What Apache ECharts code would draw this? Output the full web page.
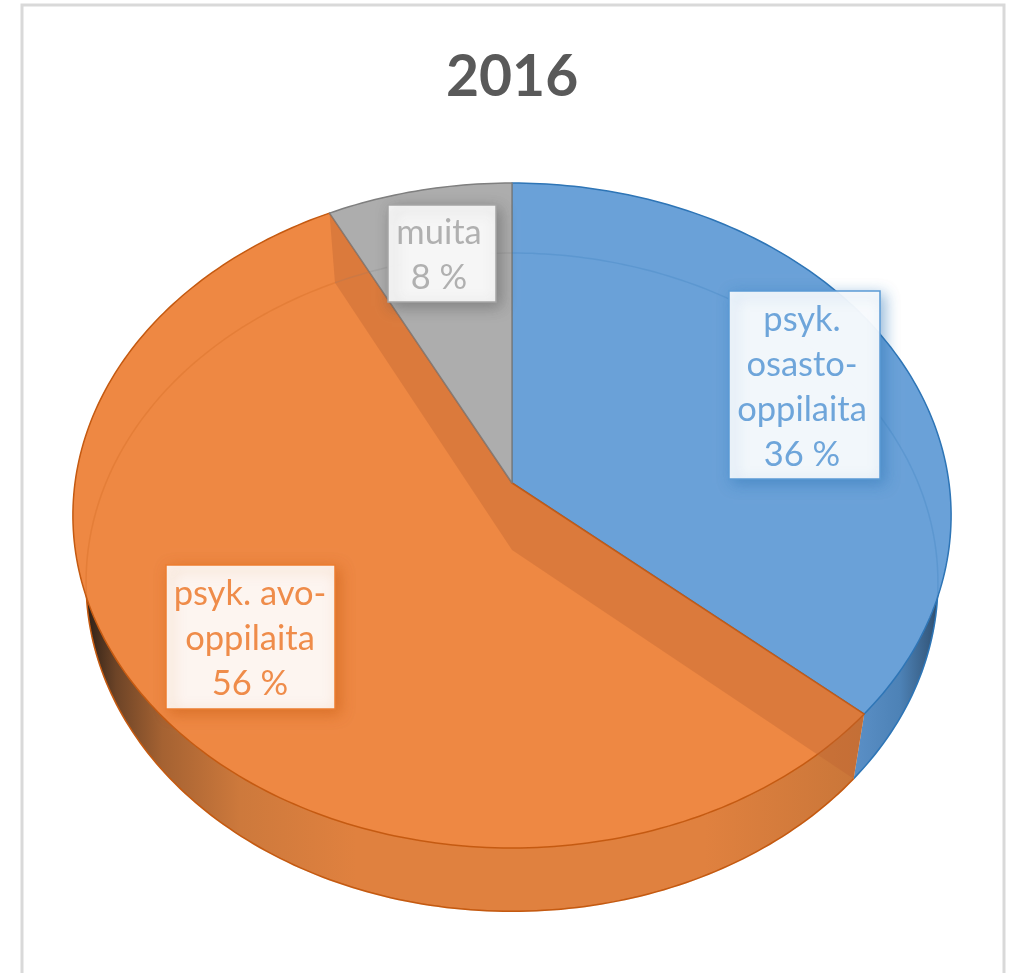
<!DOCTYPE html>
<html>
<head>
<meta charset="utf-8">
<title>2016</title>
<style>
  html, body { margin: 0; padding: 0; background: #fff; }
  #main { width: 1015px; height: 973px; }
</style>
<script src="https://cdn.jsdelivr.net/npm/echarts@6/dist/echarts.min.js"></script>
</head>
<body>
<div id="main"></div>
<script>
const chartTitle = '2016'
const categories = ['psyk.\nosasto-\noppilaita', 'psyk. avo-\noppilaita', 'muita']
const shares = [36.4, 56.1, 7.5]

// slice colours, in the same order as the categories
const topColors = ['#6aa1d8', '#ee8843', '#adadad']
const rimColors = ['#2e75b6', '#c55a11', '#7f7f7f']
const textColors = ['#6ea5da', '#ef8c4a', '#b0b0b0']
const boxColors = ['#5b9bd5', '#ed7d31', '#a5a5a5']
const shadowColors = ['rgba(46,117,182,0.55)', 'rgba(197,90,17,0.55)', 'rgba(80,80,80,0.5)']
const labelBoxes = [
  { x: 729, y: 291, w: 151, h: 188, textX: 802 },
  { x: 166, y: 565, w: 169, h: 144, textX: 250 },
  { x: 388, y: 205, w: 108, h: 97, textX: 439 }
]

// perspective of the tilted disc
const cx = 512
const apexY = 483
const radiusX = 437
const radiusY = 329.3
const tilt = -0.0977
const depth = 67
const bottomScale = 0.97

const total = shares.reduce((a, b) => a + b, 0)
const startAngles = []
let sum = 0
shares.forEach(v => {
  startAngles.push(sum / total * Math.PI * 2)
  sum += v
})
const endAngle = i => startAngles[i] + shares[i] / total * Math.PI * 2

function project(angle, lower) {
  const u = Math.sin(angle)
  const v = -Math.cos(angle)
  const w = 1 + tilt * v
  const sx = lower ? bottomScale : 1
  return [cx + radiusX * sx * u / w, apexY + (lower ? depth : 0) + radiusY * (lower ? 0.99 : 1) * v / w]
}

function arc(from, to, lower) {
  const pts = []
  const steps = Math.ceil(Math.abs(to - from) / (Math.PI / 180))
  for (let i = 0; i <= steps; i++) {
    pts.push(project(from + (to - from) * i / steps, lower))
  }
  return pts
}

const wallFills = [
  new echarts.graphic.LinearGradient(855, 0, 945, 0, [
    { offset: 0, color: '#5a8fc6' },
    { offset: 0.5, color: '#4d82b6' },
    { offset: 0.85, color: '#35597e' },
    { offset: 1, color: '#22364c' }
  ], true),
  new echarts.graphic.LinearGradient(85, 0, 860, 0, [
    { offset: 0, color: '#2a1e16' },
    { offset: 0.04, color: '#6d4427' },
    { offset: 0.1, color: '#a56232' },
    { offset: 0.2, color: '#cd793c' },
    { offset: 0.35, color: '#e0813f' },
    { offset: 0.8, color: '#e0813f' },
    { offset: 1, color: '#c97639' }
  ], true),
  '#8f8f8f'
]

function renderWall(params, api) {
  const i = params.dataIndex
  const upper = arc(startAngles[i], endAngle(i), false)
  const lower = arc(startAngles[i], endAngle(i), true)
  return {
    type: 'group',
    children: [
      {
        type: 'polygon',
        shape: { points: upper.concat(lower.slice().reverse()) },
        style: { fill: wallFills[i] }
      },
      {
        type: 'polyline',
        shape: { points: lower },
        style: { fill: 'none', stroke: rimColors[i], lineWidth: 1.5 }
      }
    ]
  }
}

function renderTop(params, api) {
  const i = params.dataIndex
  const rim = arc(startAngles[i], endAngle(i), false)
  return {
    type: 'polygon',
    shape: { points: [[cx, apexY]].concat(rim) },
    style: { fill: topColors[i], stroke: rimColors[i], lineWidth: 1.5, lineJoin: 'round' }
  }
}

// the underside shows faintly through the top
function renderUnderside(params, api) {
  const i = params.dataIndex
  return {
    type: 'polyline',
    shape: { points: arc(startAngles[i], endAngle(i), true) },
    style: { fill: 'none', stroke: rimColors[i], lineWidth: 1.5, opacity: 0.22 }
  }
}

// cut faces of the big orange slice, also seen through the top
function renderCut(params, api) {
  const i = params.dataIndex
  if (i !== 1) return null
  const face = a => [[cx, apexY], project(a, false), project(a, true), [cx, apexY + depth]]
  return {
    type: 'group',
    children: [startAngles[i], endAngle(i)].map(a => ({
      type: 'polygon',
      shape: { points: face(a) },
      style: { fill: 'rgba(190,100,50,0.38)' }
    }))
  }
}

function renderLabel(params, api) {
  const i = params.dataIndex
  const box = labelBoxes[i]
  return {
    type: 'group',
    children: [
      {
        type: 'rect',
        shape: { x: box.x, y: box.y, width: box.w, height: box.h },
        style: {
          fill: 'rgba(255,255,255,0.93)',
          stroke: boxColors[i],
          lineWidth: 1.5,
          shadowBlur: 14,
          shadowOffsetX: 4,
          shadowOffsetY: 4,
          shadowColor: shadowColors[i]
        }
      },
      {
        type: 'text',
        style: {
          x: box.textX,
          y: box.y + box.h / 2 + 2,
          text: categories[i] + '\n' + Math.round(api.value(0)) + ' %',
          fill: textColors[i],
          font: '34.5px Lato',
          lineHeight: 45,
          align: 'center',
          verticalAlign: 'middle'
        }
      }
    ]
  }
}

const layer = (name, renderItem, z) => ({
  type: 'custom',
  name: name,
  coordinateSystem: 'none',
  renderItem: renderItem,
  data: shares,
  z: z,
  silent: true,
  animation: false,
  clip: false
})

const chart = echarts.init(document.getElementById('main'), null, { renderer: 'canvas' })
chart.setOption({
  animation: false,
  backgroundColor: '#fff',
  title: {
    text: chartTitle,
    left: 441,
    top: 44,
    textStyle: { fontFamily: 'Lato', fontWeight: 'bold', fontSize: 57, color: '#595959' }
  },
  graphic: [{
    type: 'rect',
    shape: { x: 22, y: 5, width: 982, height: 1100 },
    style: { fill: 'none', stroke: '#d9d9d9', lineWidth: 3 },
    silent: true
  }],
  series: [
    layer('walls', renderWall, 1),
    layer('slices', renderTop, 2),
    layer('underside', renderUnderside, 3),
    layer('cuts', renderCut, 4),
    layer('labels', renderLabel, 5)
  ]
})
</script>
</body>
</html>
